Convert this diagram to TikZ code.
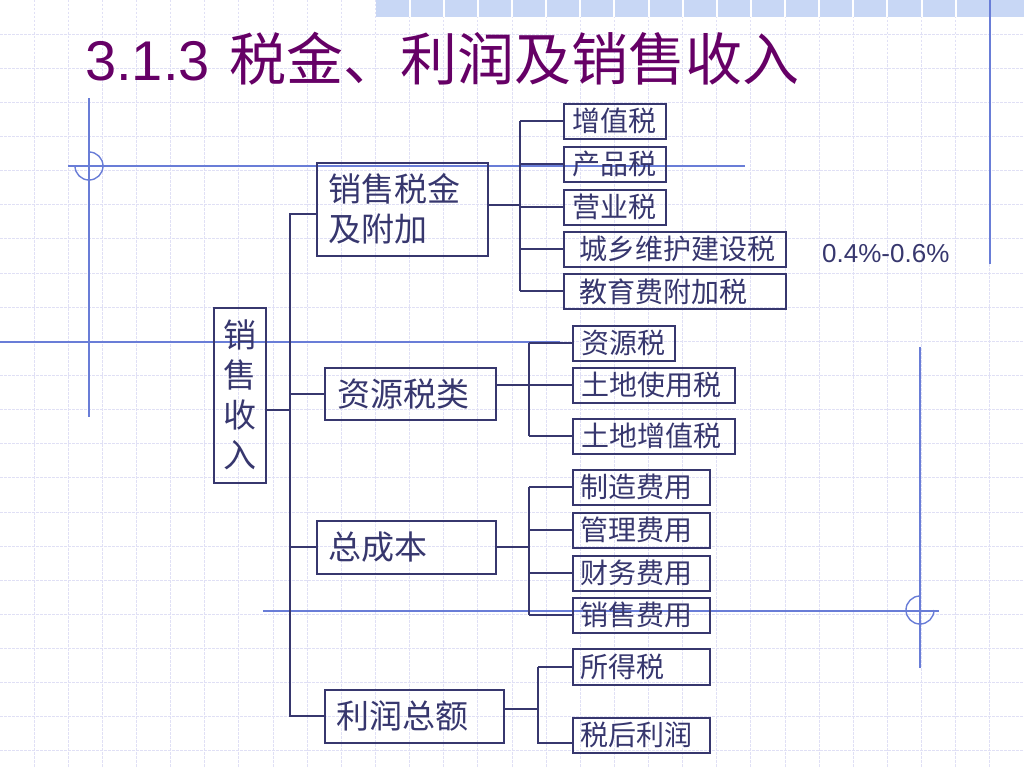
\documentclass[tikz,border=0pt]{standalone}
\usepackage{fontspec}
\setmainfont{Liberation Sans}
\newfontfamily\cjk{Noto Sans CJK SC}
\newfontfamily\lat{Liberation Sans}
\definecolor{navy}{RGB}{55,55,110}
\definecolor{ttl}{RGB}{102,0,102}
\definecolor{deco}{RGB}{105,125,215}
\definecolor{gridc}{RGB}{224,224,245}
\definecolor{bandc}{RGB}{200,215,245}
\begin{document}
\begin{tikzpicture}[x=1pt,y=-1pt,
  box/.style={draw=navy, line width=1.6pt, anchor=north west, inner xsep=0pt, inner ysep=0pt,
    text=navy, align=left},
  big/.style={font=\cjk\fontsize{33}{40}\selectfont},
  small/.style={font=\cjk\fontsize{28}{34}\selectfont},
  conn/.style={draw=navy, line width=1.8pt},
  decoline/.style={draw=deco, line width=1.4pt},
  gridline/.style={draw=gridc, line width=1pt, dash pattern=on 2.5pt off 1.5pt}]

\fill[white] (0,0) rectangle (1024,768);
\useasboundingbox (0,0) rectangle (1024,768);

% grid
\foreach \k in {1,...,29} { \draw[gridline] (\k*34.133,0) -- (\k*34.133,768); }
\foreach \k in {1,...,22} { \draw[gridline] (0,\k*34.133) -- (1024,\k*34.133); }

% top band
\fill[bandc] (375.5,0) rectangle (1024,17);
\foreach \k in {12,...,29} { \draw[white, line width=2pt] (\k*34.133,0) -- (\k*34.133,17); }

% decorative lines
\draw[decoline] (89,98) -- (89,417);
\draw[decoline] (68,166) -- (745,166);
\draw[decoline] (75,166) arc[start angle=180, end angle=-90, radius=14];
\draw[decoline] (0,342) -- (560,342);
\draw[decoline] (990,0) -- (990,264);
\draw[decoline] (263,611) -- (939,611);
\draw[decoline] (920,347) -- (920,668);
\draw[decoline] (920,596) arc[start angle=270, end angle=0, radius=14];

% title
\node[anchor=base west, inner sep=0pt, text=ttl] (title) at (85,81)
  {\lat\fontsize{56}{60}\selectfont 3.1.3\hspace{20pt}\cjk\fontsize{57}{60}\selectfont 税金、利润及销售收入};

% main boxes
\node[box, big, align=center, text width=52pt, minimum width=52pt, minimum height=175pt] (root) at (213,307) {销\\售\\收\\入};
\node[box, big, text width=171pt, minimum width=171pt, minimum height=93pt] (s1) at (316,162) {\hspace*{12pt}销售税金\\\hspace*{12pt}及附加};
\node[box, big, text width=171pt, minimum width=171pt, minimum height=52pt] (s2) at (324,367) {\hspace*{13pt}资源税类};
\node[box, big, text width=179pt, minimum width=179pt, minimum height=53pt] (s3) at (316,520) {\hspace*{12pt}总成本};
\node[box, big, text width=179pt, minimum width=179pt, minimum height=53pt] (s4) at (324,689) {\hspace*{12pt}利润总额};

% leaf boxes
\node[box, small, text width=102pt, minimum width=102pt, minimum height=35pt] (a1) at (563,103) {\hspace*{9pt}增值税};
\node[box, small, text width=102pt, minimum width=102pt, minimum height=35pt] (a2) at (563,146) {\hspace*{9pt}产品税};
\node[box, small, text width=102pt, minimum width=102pt, minimum height=35pt] (a3) at (563,189) {\hspace*{9pt}营业税};
\node[box, small, text width=222pt, minimum width=222pt, minimum height=35pt] (a4) at (563,231) {\hspace*{16pt}城乡维护建设税};
\node[box, small, text width=222pt, minimum width=222pt, minimum height=35pt] (a5) at (563,273) {\hspace*{16pt}教育费附加税};

\node[box, small, text width=102pt, minimum width=102pt, minimum height=35pt] (b1) at (572,325) {\hspace*{9pt}资源税};
\node[box, small, text width=162pt, minimum width=162pt, minimum height=35pt] (b2) at (572,367) {\hspace*{9pt}土地使用税};
\node[box, small, text width=162pt, minimum width=162pt, minimum height=35pt] (b3) at (572,418) {\hspace*{9pt}土地增值税};

\node[box, small, text width=137pt, minimum width=137pt, minimum height=35pt] (c1) at (572,469) {\hspace*{8pt}制造费用};
\node[box, small, text width=137pt, minimum width=137pt, minimum height=35pt] (c2) at (572,512) {\hspace*{8pt}管理费用};
\node[box, small, text width=137pt, minimum width=137pt, minimum height=35pt] (c3) at (572,555) {\hspace*{8pt}财务费用};
\node[box, small, text width=137pt, minimum width=137pt, minimum height=35pt] (c4) at (572,597) {\hspace*{8pt}销售费用};

\node[box, small, text width=137pt, minimum width=137pt, minimum height=36pt] (d1) at (572,648) {\hspace*{8pt}所得税};
\node[box, small, text width=137pt, minimum width=137pt, minimum height=35pt] (d2) at (572,717) {\hspace*{8pt}税后利润};

% side note
\node[anchor=base west, inner sep=0pt, text=navy, font=\lat\fontsize{26}{30}\selectfont] (note) at (822,262) {0.4\%-0.6\%};

% branch coordinates
\coordinate (trunk) at (290,0);
\coordinate (br1) at (520,0);
\coordinate (br2) at (529,0);
\coordinate (br3) at (529,0);
\coordinate (br4) at (538,0);

% trunk connectors
\draw[conn] ([yshift=-14.5pt]root.east) -- ([yshift=-14.5pt]root.east -| trunk);
\draw[conn] ([yshift=-4.5pt]s1.west) -- ([yshift=-4.5pt]s1.west -| trunk) -- (s4.west -| trunk) -- (s4.west);
\draw[conn] (s2.west) -- (s2.west -| trunk);
\draw[conn] (s3.west) -- (s3.west -| trunk);

% group 1
\draw[conn] ([yshift=4.5pt]s1.east) -- ([yshift=4.5pt]s1.east -| br1);
\draw[conn] (a1.west -| br1) -- (a5.west -| br1);
\foreach \n in {a1,a2,a3,a4,a5} { \draw[conn] (\n.west -| br1) -- (\n.west); }

% group 2
\draw[conn] (b2.west -| s2.east) -- (b2.west -| br2);
\draw[conn] (b1.west -| br2) -- (b3.west -| br2);
\foreach \n in {b1,b2,b3} { \draw[conn] (\n.west -| br2) -- (\n.west); }

% group 3
\draw[conn] (s3.east) -- (s3.east -| br3);
\draw[conn] (c1.west -| br3) -- (c4.west -| br3);
\foreach \n in {c1,c2,c3,c4} { \draw[conn] (\n.west -| br3) -- (\n.west); }

% group 4
\draw[conn] ([yshift=7.5pt]s4.east) -- ([yshift=7.5pt]s4.east -| br4);
\draw[conn] (d1.west -| br4) -- ([yshift=-7.5pt]d2.west -| br4) -- ([yshift=-7.5pt]d2.west);
\draw[conn] (d1.west -| br4) -- (d1.west);
\end{tikzpicture}
\end{document}
